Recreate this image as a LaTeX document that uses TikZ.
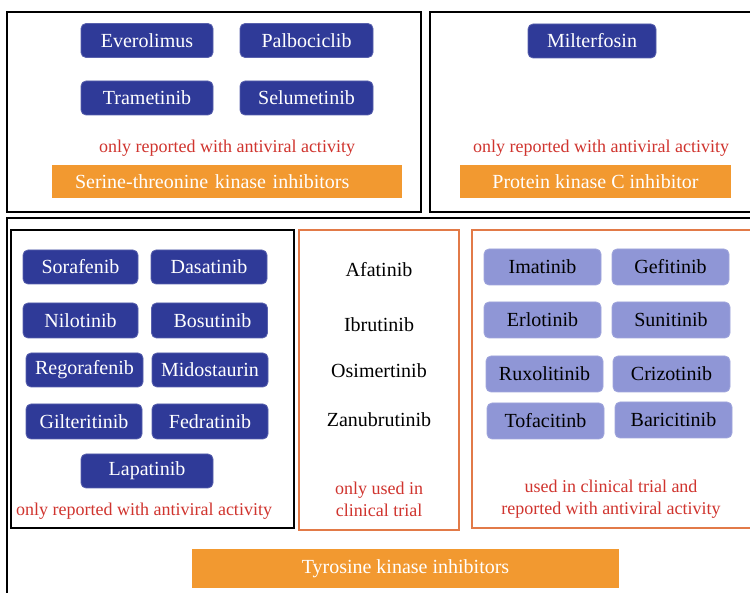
\documentclass[tikz,border=0pt]{standalone}
\usepackage{fontspec}
\setmainfont{Liberation Serif}
\definecolor{dblue}{RGB}{47,58,152}
\definecolor{lpurple}{RGB}{143,150,214}
\definecolor{obar}{RGB}{242,153,48}
\definecolor{rtext}{RGB}{208,52,46}
\definecolor{oline}{RGB}{226,122,72}
\tikzset{
  dbox/.style={rounded corners=5pt, fill=dblue, draw=dblue!80!white, line width=0.8pt, text=white,
    inner sep=0pt, minimum height=34pt, font=\fontsize{20}{24}\selectfont},
  lbox/.style={rounded corners=5pt, fill=lpurple, draw=lpurple!85!white, line width=0.8pt, text=black,
    inner sep=0pt, minimum height=36pt, minimum width=117pt, font=\fontsize{20}{24}\selectfont},
  redtxt/.style={text=rtext, inner sep=0pt, align=center, font=\fontsize{18}{22}\selectfont},
  blktxt/.style={text=black, inner sep=0pt, font=\fontsize{20}{24}\selectfont},
  obarbox/.style={fill=obar, draw=none, text=white, inner sep=0pt, font=\fontsize{20}{24}\selectfont},
  frameblack/.style={draw=black, line width=2pt},
  frameorange/.style={draw=oline, line width=2pt},
}
\begin{document}
\begin{tikzpicture}[x=1pt,y=-1pt]
\useasboundingbox (0,0) rectangle (750,593);
\clip (0,0) rectangle (750,593);
\fill[white] (0,0) rectangle (750,593);

% frames
\draw[frameblack] (7,12) rectangle (421,212);
\draw[frameblack] (430,12) rectangle (770,212);
\draw[frameblack] (7,218) rectangle (770,620);
\draw[frameblack] (11,230) rectangle (294,528);
\draw[frameorange] (299,230) rectangle (459,530);
\draw[frameorange] (472,230) rectangle (770,528);

% serine-threonine
\node[dbox, minimum width=132pt] (everolimus) at (147,40.5) {Everolimus};
\node[dbox, minimum width=133pt] (palbociclib) at (306.5,40.5) {Palbociclib};
\node[dbox, minimum width=132pt] (trametinib) at (147,98) {Trametinib};
\node[dbox, minimum width=133pt] (selumetinib) at (306.5,98) {Selumetinib};
\node[redtxt] (red1) at (227,148) {only reported with antiviral activity};
\node[obarbox, minimum width=350pt, minimum height=33pt, text width=304pt, inner xsep=23pt, align=left] (stk) at (227,181.5) {Serine-threonine kinase inhibitors};

% protein kinase C
\node[dbox, minimum width=128pt] (milterfosin) at (592,41) {Milterfosin};
\node[redtxt] (red2) at (601,148) {only reported with antiviral activity};
\node[obarbox, minimum width=271pt, minimum height=33pt] (pkc) at (595.5,181.5) {Protein kinase C inhibitor};

% tyrosine - left group
\node[dbox, minimum width=115pt] (sorafenib) at (80.5,267) {Sorafenib};
\node[dbox, minimum width=116pt] (dasatinib) at (209,267) {Dasatinib};
\node[dbox, minimum width=115pt, minimum height=35pt] (nilotinib) at (80.5,320.5) {Nilotinib};
\node[dbox, minimum width=116pt, minimum height=35pt] (bosutinib) at (209.5,320.5) {\hspace{6pt}Bosutinib};
\node[dbox, minimum width=117pt] (regorafenib) at (84.5,370) {Regorafenib};
\node[dbox, minimum width=116pt] (midostaurin) at (210,370) {Midostaurin};
\node[dbox, minimum width=116pt, minimum height=35pt] (gilteritinib) at (84,421.5) {Gilteritinib};
\node[dbox, minimum width=116pt, minimum height=35pt] (fedratinib) at (210,421.5) {Fedratinib};
\node[dbox, minimum width=132pt] (lapatinib) at (147,471) {Lapatinib};
\node[redtxt] (red3) at (144,511) {only reported with antiviral activity};

% tyrosine - middle group
\node[blktxt] (afatinib) at (379,270) {Afatinib};
\node[blktxt] (ibrutinib) at (379,325) {Ibrutinib};
\node[blktxt] (osimertinib) at (379,371) {Osimertinib};
\node[blktxt] (zanubrutinib) at (379,420) {Zanubrutinib};
\node[redtxt, font=\fontsize{18}{22.5}\selectfont] (red4) at (379,499.5) {only used in\\clinical trial};

% tyrosine - right group
\node[lbox] (imatinib) at (542.5,267) {Imatinib};
\node[lbox] (gefitinib) at (670.5,267) {Gefitinib};
\node[lbox] (erlotinib) at (542.5,320) {Erlotinib};
\node[lbox, minimum width=118pt] (sunitinib) at (671,320) {Sunitinib};
\node[lbox] (ruxolitinib) at (544.5,374) {Ruxolitinib};
\node[lbox] (crizotinib) at (671.5,374) {Crizotinib};
\node[lbox] (tofacitinb) at (545.5,421) {Tofacitinb};
\node[lbox] (baricitinib) at (673.5,420) {Baricitinib};
\node[redtxt, font=\fontsize{18}{22.5}\selectfont] (red5) at (611,499) {used in clinical trial and\\reported with antiviral activity};

% bottom bar
\node[obarbox, minimum width=427pt, minimum height=39pt] (tki) at (405.5,568.5) {Tyrosine kinase inhibitors};
\end{tikzpicture}
\end{document}
